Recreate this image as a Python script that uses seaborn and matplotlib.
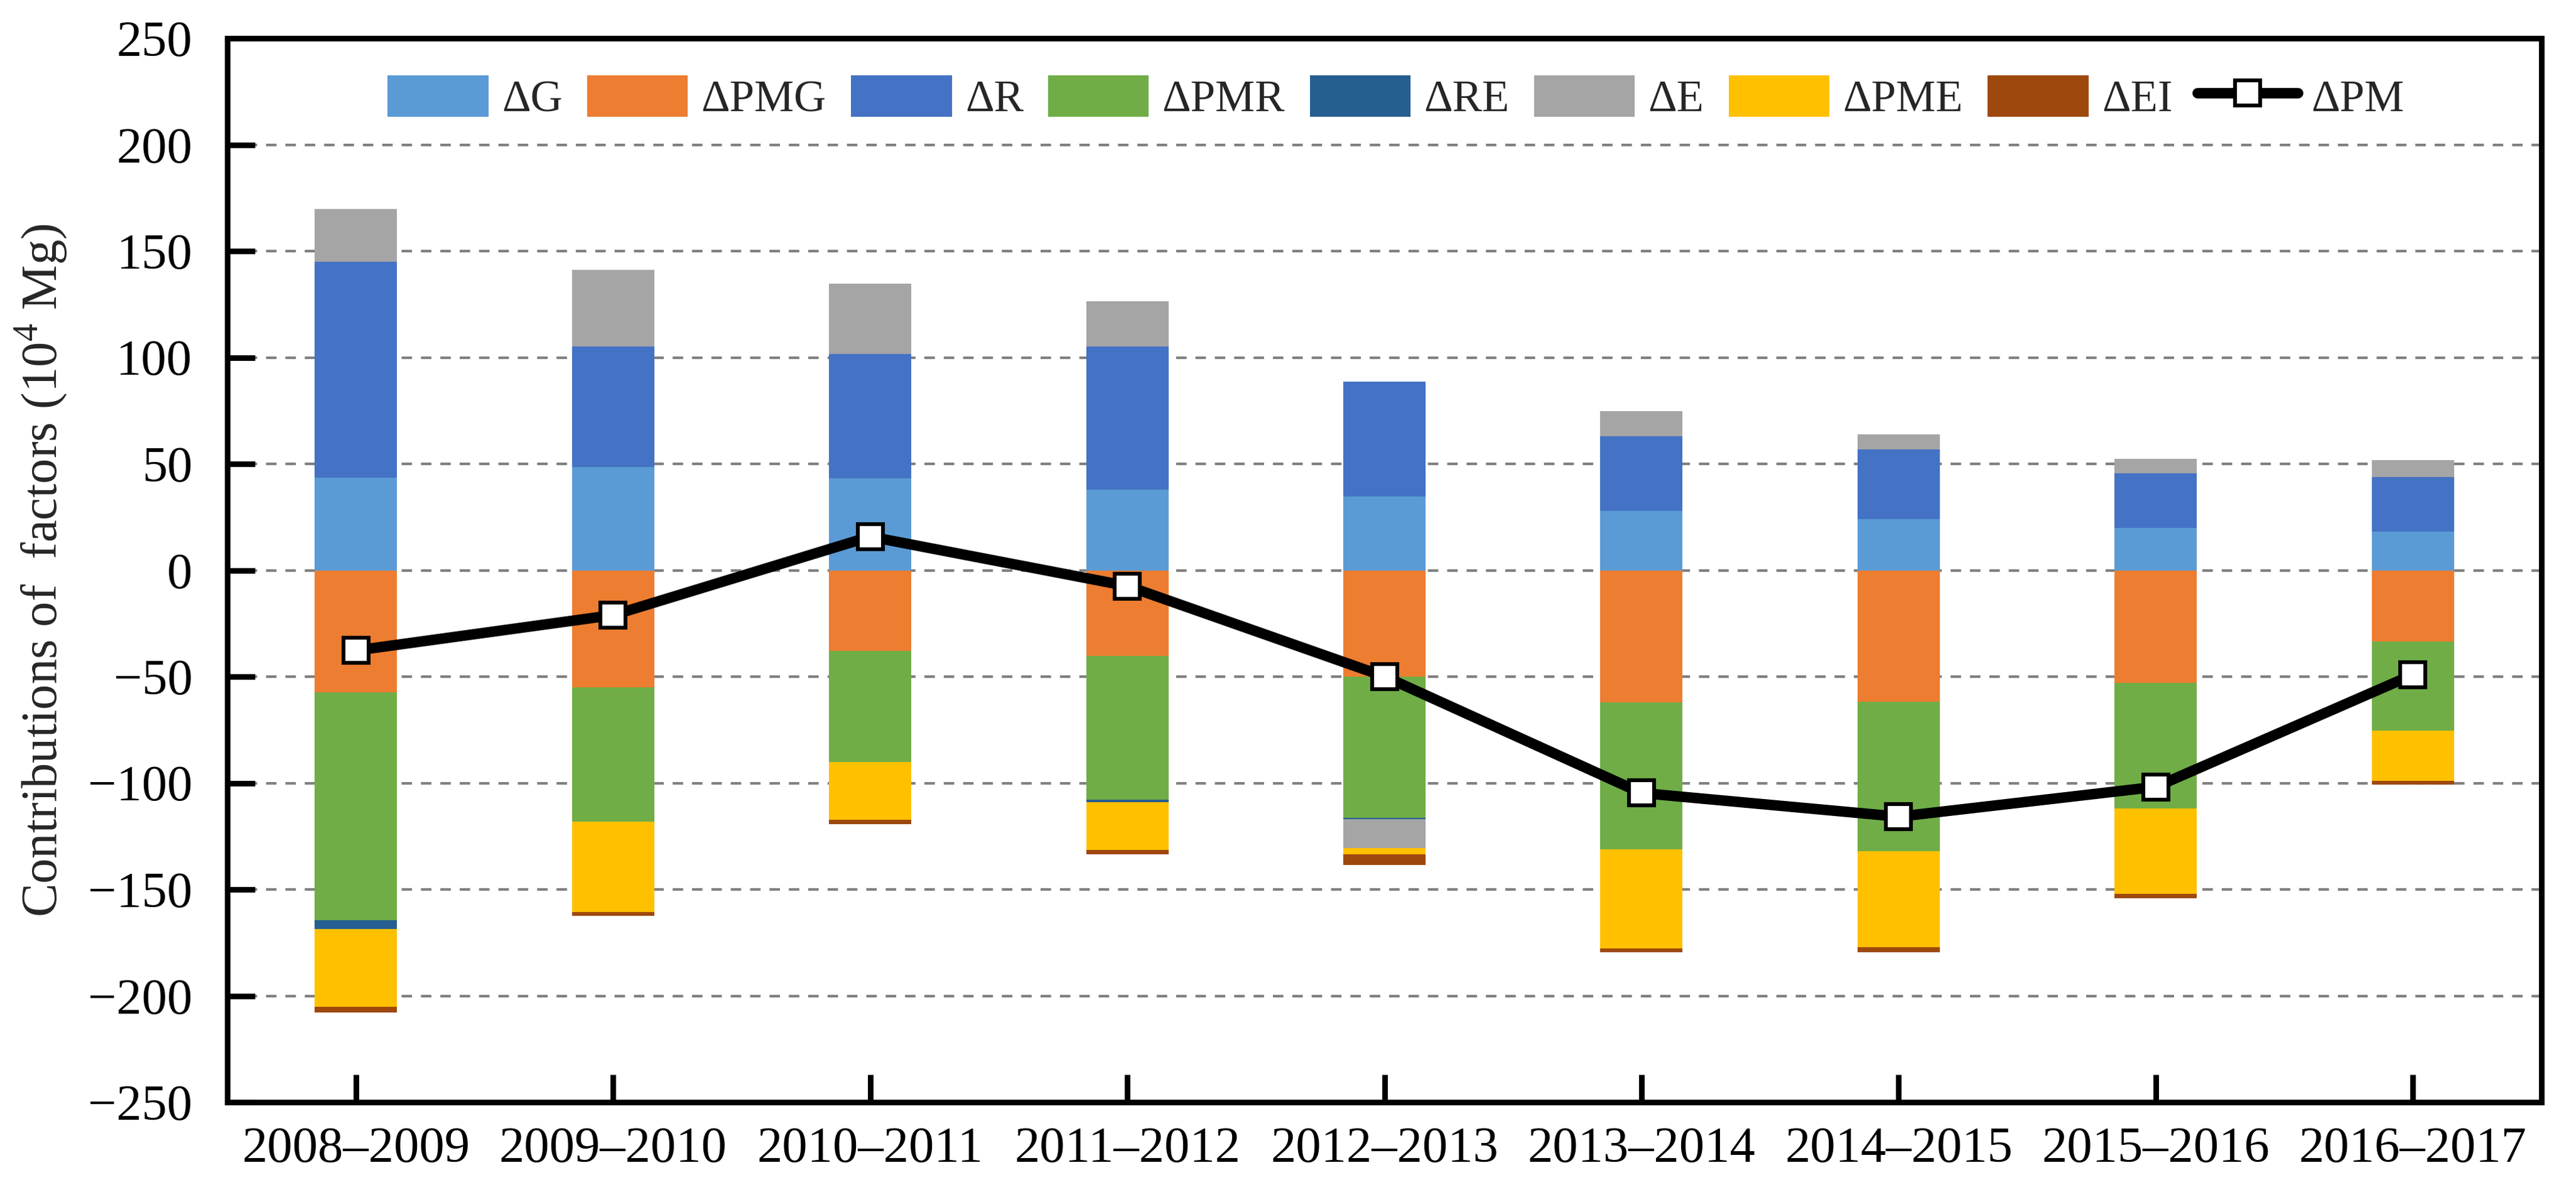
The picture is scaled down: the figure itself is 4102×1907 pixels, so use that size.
import numpy as np
import matplotlib
matplotlib.use("Agg")
import matplotlib.pyplot as plt
import seaborn as sns
from matplotlib.patches import Patch
from matplotlib.lines import Line2D

# ---------------- data (10^4 Mg) ----------------
periods = ["2008–2009", "2009–2010", "2010–2011", "2011–2012", "2012–2013",
           "2013–2014", "2014–2015", "2015–2016", "2016–2017"]
dG   = [43.5, 48.5, 43.3, 38.0, 34.6, 28.0, 24.0, 19.8, 18.2]
dPMG = [-57.5, -54.9, -38.0, -40.4, -49.9, -62.0, -61.7, -53.0, -33.5]
dR   = [101.6, 56.8, 58.3, 67.3, 54.1, 35.1, 32.7, 25.8, 25.6]
dPMR = [-106.9, -63.3, -52.0, -67.5, -66.5, -69.1, -70.2, -58.9, -42.0]
dRE  = [-4.2, 0.0, 0.0, -1.1, -0.6, 0.0, 0.0, 0.0, 0.0]
dE   = [24.6, 35.9, 33.2, 21.1, -13.6, 11.8, 7.2, 6.9, 7.9]
dPME = [-36.7, -42.5, -27.4, -22.4, -2.9, -46.5, -45.1, -40.1, -23.4]
dEI  = [-2.6, -1.6, -1.9, -2.1, -5.0, -1.8, -2.4, -2.1, -1.9]
dPM  = [-37.7, -21.1, 15.8, -7.4, -49.9, -104.7, -115.8, -101.8, -49.1]

series_names = ["ΔG", "ΔPMG", "ΔR", "ΔPMR", "ΔRE", "ΔE", "ΔPME", "ΔEI"]
series_vals = [dG, dPMG, dR, dPMR, dRE, dE, dPME, dEI]
series_colors = ["#5B9BD5", "#ED7D31", "#4472C4", "#70AD47",
                 "#255E91", "#A5A5A5", "#FFC000", "#9E480E"]
line_name = "ΔPM"
yticks = list(range(-250, 251, 50))

# ---------------- style ----------------
sns.set_theme(style="white")
plt.rcParams["font.family"] = ["Liberation Serif", "DejaVu Serif"]
plt.rcParams["mathtext.fontset"] = "custom"
plt.rcParams["mathtext.rm"] = "Liberation Serif"
plt.rcParams["axes.unicode_minus"] = True

W, H, DPI = 4102, 1907, 200
fig, ax = plt.subplots(figsize=(W / DPI, H / DPI), dpi=DPI)
fig.subplots_adjust(left=362 / W, right=4047 / W, top=1 - 61 / H, bottom=1 - 1756 / H)

n = len(periods)
pos_base = np.zeros(n)
neg_base = np.zeros(n)
for name, vals, col in zip(series_names, series_vals, series_colors):
    v = np.asarray(vals, dtype=float)
    bottom = np.where(v >= 0, pos_base, neg_base)
    sns.barplot(x=periods, y=v, order=periods, color=col, saturation=1,
                width=0.32, errorbar=None, bottom=bottom, linewidth=0,
                ax=ax, zorder=2)
    pos_base += np.where(v >= 0, v, 0)
    neg_base += np.where(v < 0, v, 0)

LW = 6.0
n_before = len(ax.lines)
sns.pointplot(x=periods, y=dPM, order=periods, color="black", markers="s",
              linestyles="-", errorbar=None, ax=ax)
for ln in ax.lines[n_before:]:
    ln.set_linewidth(LW)
    ln.set_color("black")
    ln.set_marker("s")
    ln.set_markersize(14.4)
    ln.set_markerfacecolor("white")
    ln.set_markeredgecolor("black")
    ln.set_markeredgewidth(2.2)
    ln.set_zorder(5)

ax.set_xlim(-0.5, n - 0.5)
ax.set_ylim(-250, 250)
ax.set_yticks(yticks)
ax.set_xlabel("")
ax.set_ylabel("Contributions of  factors (10$^{\\mathrm{4}}$ Mg)", fontsize=29)
ax.yaxis.set_label_coords(-0.068, 0.5)

ax.yaxis.grid(True, linestyle=(0, (4, 3.4)), color="#808080", linewidth=1.5)
ax.xaxis.grid(False)
ax.set_axisbelow(True)

for sp in ax.spines.values():
    sp.set_visible(True)
    sp.set_linewidth(3.2)
    sp.set_color("black")

ax.tick_params(axis="both", direction="in", length=16, width=3.2,
               labelsize=29, color="black", labelcolor="black")
ax.tick_params(axis="y", left=True, right=False, pad=20)
ax.tick_params(axis="x", bottom=True, top=False, pad=14)

handles = [Patch(facecolor=c, edgecolor="none", label=nm)
           for nm, c in zip(series_names, series_colors)]
handles.append(Line2D([0], [0], color="black", linewidth=LW, marker="s",
                      markersize=14.4, markerfacecolor="white",
                      markeredgecolor="black", markeredgewidth=2.2,
                      label=line_name))
ax.legend(handles=handles, loc="center", bbox_to_anchor=(0.505, 0.944),
          ncol=9, frameon=False, fontsize=25.5, handlelength=2.26,
          handleheight=1.07, handletextpad=0.3, columnspacing=0.56,
          borderaxespad=0)

fig.savefig("out.png", dpi=DPI, facecolor="white")
